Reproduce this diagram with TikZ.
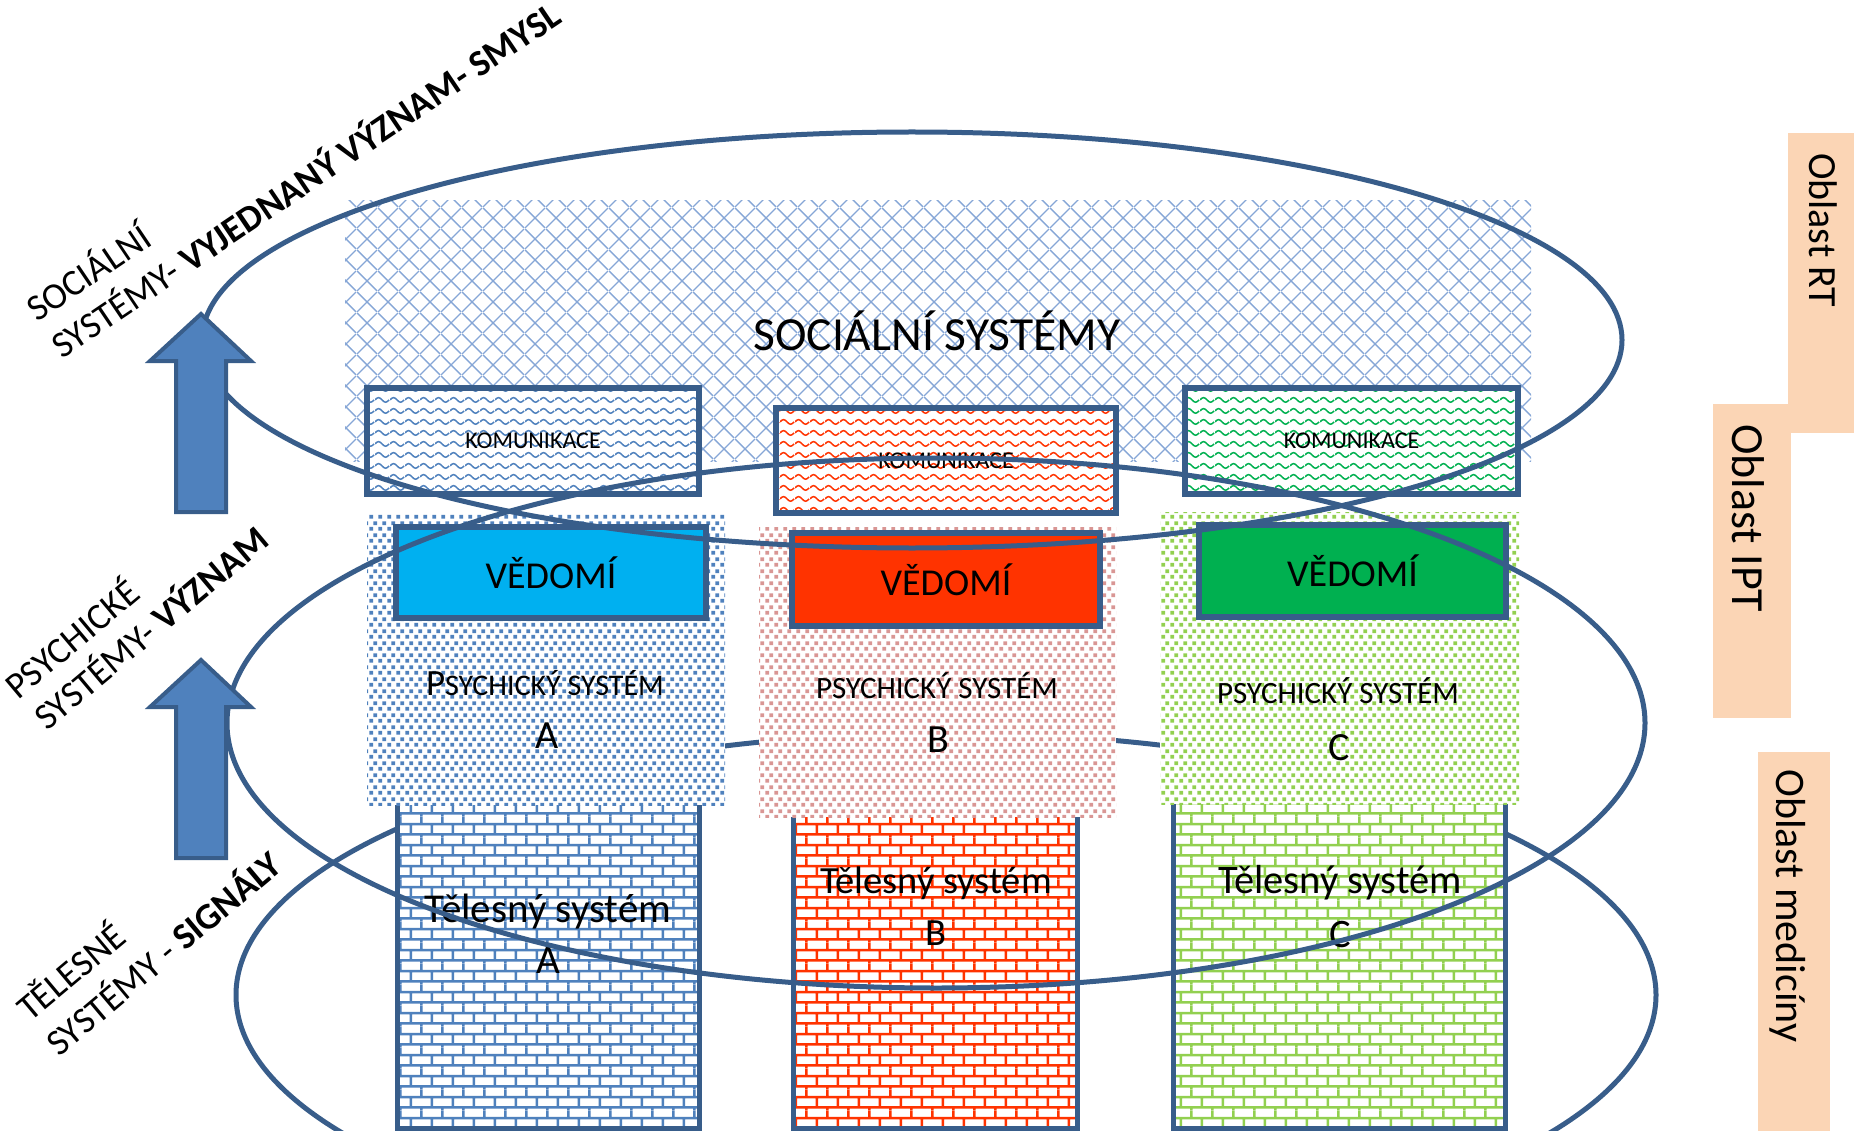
\documentclass[tikz,border=0pt]{standalone}
\usepackage{fontspec}
\setmainfont{Carlito}
\usetikzlibrary{patterns.meta,shapes.geometric}

\definecolor{rimblue}{HTML}{385D8A}
\definecolor{arrowblue}{HTML}{4F81BD}
\definecolor{netblue}{HTML}{86A6D6}
\definecolor{peach}{HTML}{FBD5B5}
\definecolor{vedA}{HTML}{00B0F0}
\definecolor{vedB}{HTML}{FF3300}
\definecolor{vedC}{HTML}{00B050}
\definecolor{tintA}{HTML}{4F81BD}
\definecolor{tintB}{HTML}{D99694}
\definecolor{tintC}{HTML}{92D050}

\newcommand{\fsz}[1]{\fontsize{#1}{#1}\selectfont}

% fill patterns
\tikzdeclarepattern{name=crossnet, type=uncolored,
  bottom left={(0pt,0pt)}, top right={(21pt,21pt)}, tile size={(21pt,21pt)},
  code={\tikzset{x=1pt,y=1pt}
    \draw[line width=1.4pt] (0,0) -- (21,21) (0,21) -- (21,0);}}
\tikzdeclarepattern{name=waves, type=uncolored,
  bottom left={(0pt,0pt)}, top right={(15pt,11pt)}, tile size={(15pt,11pt)},
  code={\tikzset{x=1pt,y=1pt}
    \draw[line width=1.6pt] (0,5.5) sin (3.75,8) cos (7.5,5.5) sin (11.25,3) cos (15,5.5);}}
\tikzdeclarepattern{name=confetti, type=uncolored,
  bottom left={(0pt,0pt)}, top right={(9pt,12pt)}, tile size={(9pt,12pt)},
  code={\tikzset{x=1pt,y=1pt}
    \fill (0.3,0.3) rectangle (4.5,4.5) (4.8,6.3) rectangle (9,10.5);}}
\tikzdeclarepattern{name=bricks, type=uncolored,
  bottom left={(0pt,0pt)}, top right={(21.4pt,20.8pt)}, tile size={(21.4pt,20.8pt)},
  code={\tikzset{x=1pt,y=1pt}
    \draw[line width=2.6pt] (0,2.6) -- (21.4,2.6) (0,13) -- (21.4,13)
      (5,2.6) -- (5,13) (15.7,13) -- (15.7,20.8) (15.7,0) -- (15.7,2.6);}}

\begin{document}
\begin{tikzpicture}[x=1pt, y=-1pt,
  rim/.style={draw=rimblue, line width=5pt},
  ring/.style={ellipse, rim, inner sep=0pt},
  komubox/.style={rim, line width=5.5pt, preaction={fill=white}, pattern=waves, inner sep=0pt, font={\fsz{24}}},
  vedbox/.style={rim, line width=6pt, inner sep=0pt, font={\fsz{38}}},
  psybox/.style={preaction={fill=white}, pattern=confetti, inner sep=0pt},
  bodybox/.style={rim, preaction={fill=white}, pattern=bricks, inner sep=0pt},
  lbl/.style={anchor=base, inner sep=0pt},
  tilted/.style={anchor=base west, inner sep=0pt, font={\fsz{37}}},
  sidebox/.style={fill=peach, inner sep=0pt},
  sidetext/.style={rotate=-90, anchor=west, inner sep=0pt},
  blockarrow/.style={fill=arrowblue, draw=rimblue, line width=4pt, line join=miter}]

	\clip (0,0) rectangle (1854,1131);

	% social layer background
	\node[pattern=crossnet, pattern color=netblue, inner sep=0pt, minimum width=1186pt, minimum height=260pt] (socnet) at (938,331) {};
	\node[lbl, font={\fsz{47.5}}] (soctitle) at (937,350) {SOCIÁLNÍ SYSTÉMY};

	\node[ring, minimum width=1420pt, minimum height=524pt] (bodyring) at (946,995) {};

	\node[bodybox, pattern color=tintA, minimum width=302pt, minimum height=338pt] (bodyA) at (548,959) {};
	\node[bodybox, pattern color=vedB,  minimum width=284pt, minimum height=328pt] (bodyB) at (935,964) {};
	\node[bodybox, pattern color=tintC, minimum width=332pt, minimum height=338pt] (bodyC) at (1339,959) {};

	\node[psybox, pattern color=tintA, minimum width=358pt, minimum height=291pt] (psyA) at (546,659.5) {};
	\node[psybox, pattern color=tintB, minimum width=357pt, minimum height=290pt] (psyB) at (937.5,672) {};
	\node[psybox, pattern color=tintC, minimum width=359pt, minimum height=292pt] (psyC) at (1339.5,658) {};

	\node[komubox, pattern color=tintA, minimum width=332pt, minimum height=106pt] (komA) at (533,441) {KOMUNIKACE};
	\node[komubox, pattern color=vedB,  minimum width=340pt, minimum height=105pt] (komB) at (946,460.5) {KOMUNIKACE};
	\node[komubox, pattern color=vedC,  minimum width=333pt, minimum height=106pt] (komC) at (1351.5,441) {KOMUNIKACE};

	\node[vedbox, fill=vedA, minimum width=310pt, minimum height=91pt] (vedA) at (551,572.5) {VĚDOMÍ};
	\node[vedbox, fill=vedB, minimum width=308pt, minimum height=93pt] (vedB) at (946,579.5) {VĚDOMÍ};
	\node[vedbox, fill=vedC, minimum width=307pt, minimum height=92pt] (vedC) at (1352.5,571) {VĚDOMÍ};

	\node[lbl] (psyAtxt) at (545,695) {{\fsz{37}P}{\fsz{30}SYCHICKÝ SYSTÉM}};
	\node[lbl, font={\fsz{31}}] (psyBtxt) at (937,698) {PSYCHICKÝ SYSTÉM};
	\node[lbl, font={\fsz{31}}] (psyCtxt) at (1338,703) {PSYCHICKÝ SYSTÉM};
	\node[lbl, font={\fsz{40}}] (psyAlet) at (547,748) {A};
	\node[lbl, font={\fsz{40}}] (psyBlet) at (938,752) {B};
	\node[lbl, font={\fsz{40}}] (psyClet) at (1339,760) {C};

	\node[lbl, font={\fsz{41}}] (bodyAtxt) at (548,922) {Tělesný systém};
	\node[lbl, font={\fsz{41}}] (bodyAlet) at (548,973) {A};
	\node[lbl, font={\fsz{38.5}}] (bodyBtxt) at (936,893) {Tělesný systém};
	\node[lbl, font={\fsz{38.5}}] (bodyBlet) at (936,945) {B};
	\node[lbl, font={\fsz{40.5}}] (bodyCtxt) at (1340,893) {Tělesný systém};
	\node[lbl, font={\fsz{40.5}}] (bodyClet) at (1340,947) {C};

	\node[ring, minimum width=1418pt, minimum height=530pt] (psyring) at (936,723) {};
	\node[ring, minimum width=1420pt, minimum height=416pt] (socring) at (912,340) {};

	% upward block arrows
	\foreach \tip in {314,660}
		\draw[blockarrow] (201,\tip) -- ++(50,47) -- ++(-25,0) -- ++(0,151) -- ++(-50,0) -- ++(0,-151) -- ++(-26,0) -- cycle;

	\node[tilted, rotate=34] (socL1) at (37,323) {SOCIÁLNÍ};
	\node[tilted, rotate=34] (socL2) at (62,360) {SYSTÉMY- \textbf{VYJEDNANÝ VÝZNAM- SMYSL}};
	\node[tilted, rotate=40] (psyL1) at (18,701) {PSYCHICKÉ};
	\node[tilted, rotate=40] (psyL2) at (47,732) {SYSTÉMY- \textbf{VÝZNAM}};
	\node[tilted, rotate=40] (bodyL1) at (30,1023) {TĚLESNÉ};
	\node[tilted, rotate=40] (bodyL2) at (59,1058) {SYSTÉMY - \textbf{SIGNÁLY}};

	% areas on the right
	\node[sidebox, minimum width=66pt, minimum height=300pt] (rtbox) at (1821,283) {};
	\node[sidebox, minimum width=78pt, minimum height=314pt] (iptbox) at (1752,561) {};
	\node[sidebox, minimum width=72pt, minimum height=380pt] (medbox) at (1794,942) {};
	\node[sidetext, font={\fsz{40}}] (rtlbl) at (1823,153) {Oblast RT};
	\node[sidetext, font={\fsz{46}}] (iptlbl) at (1748,424) {Oblast IPT};
	\node[sidetext, font={\fsz{42}}] (medlbl) at (1788,769) {Oblast medicíny};

\end{tikzpicture}
\end{document}
